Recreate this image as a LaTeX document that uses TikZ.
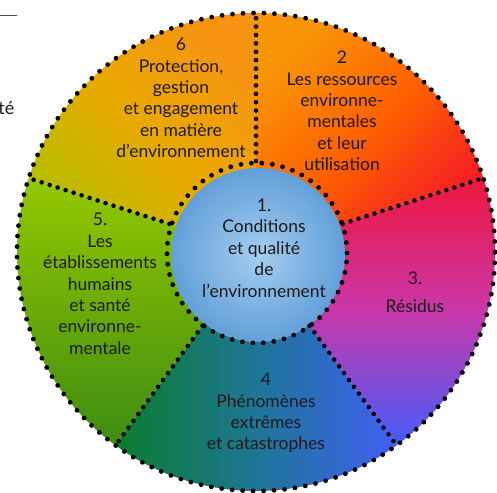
\documentclass[tikz,border=0pt]{standalone}
\usepackage{fontspec}
\setmainfont{Lato}
\definecolor{c6a}{RGB}{246,148,18}
\definecolor{c6m}{RGB}{232,170,0}
\definecolor{c6b}{RGB}{180,190,0}
\definecolor{c2a}{RGB}{248,150,8}
\definecolor{c2m}{RGB}{255,96,0}
\definecolor{c2b}{RGB}{245,22,40}
\definecolor{c3a}{RGB}{240,22,62}
\definecolor{c3m}{RGB}{200,55,170}
\definecolor{c3b}{RGB}{68,92,250}
\definecolor{c4a}{RGB}{10,125,45}
\definecolor{c4m}{RGB}{30,118,150}
\definecolor{c4b}{RGB}{65,95,245}
\definecolor{c5a}{RGB}{148,200,0}
\definecolor{c5b}{RGB}{62,140,18}
\definecolor{bIn}{RGB}{165,205,240}
\definecolor{bOut}{RGB}{98,160,216}
\definecolor{txt}{RGB}{30,25,25}
\begin{document}
\begin{tikzpicture}[x=1pt,y=1pt,
  dots/.style={line width=4.8pt, line cap=round, dash pattern=on 0pt off 10.5pt, black},
  rdots/.style={line width=4.6pt, line cap=round, dash pattern=on 0pt off 8.4pt, black},
  lbl/.style={align=center, font=\fontsize{17.5}{21.4}\selectfont, text=txt, inner sep=0pt}]
\useasboundingbox (0,0) rectangle (497,492);
% stray fragments at the left edge
\draw[line width=1pt, black!70] (0,476) -- (17,476);
\node[anchor=base east, font=\fontsize{18}{20}\selectfont, text=txt, inner sep=0pt] (frag) at (14.5,377) {té};
\begin{scope}[shift={(256,240)}]
  % sector 6
  \shade[top color=c6a, bottom color=c6b, middle color=c6m, shading angle=-45]
    (0,0) -- (90:239pt) arc[start angle=90, end angle=162, radius=239pt] -- cycle;
  % sector 2
  \shade[top color=c2a, bottom color=c2b, middle color=c2m, shading angle=45]
    (0,0) -- (18:239pt) arc[start angle=18, end angle=90, radius=239pt] -- cycle;
  % sector 3
  \shade[top color=c3a, bottom color=c3b, middle color=c3m]
    (0,0) -- (-54:239pt) arc[start angle=-54, end angle=18, radius=239pt] -- cycle;
  % sector 4
  \shade[left color=c4a, right color=c4b, middle color=c4m]
    (0,0) -- (-126:239pt) arc[start angle=-126, end angle=-54, radius=239pt] -- cycle;
  % sector 5
  \shade[top color=c5a, bottom color=c5b]
    (0,0) -- (162:239pt) arc[start angle=162, end angle=234, radius=239pt] -- cycle;
  % inner disc
  \shade[inner color=bIn, outer color=bOut] (2,-3) circle[radius=87pt];
  % dotted borders
  \foreach \a in {90,18,-54,-126,162} {
    \draw[rdots] (\a:91pt) -- (\a:239pt);
  }
  \draw[dots] (0,0) circle[radius=239pt];
  \draw[dots] (1,-1) circle[radius=90pt];
\end{scope}
% labels
\node[lbl] (n6) at (181,394) {6\\Protection,\\gestion\\et engagement\\en matière\\d’environnement};
\node[lbl] (n2) at (342,381) {2\\Les ressources\\environne-\\mentales\\et leur\\utilisation};
\node[lbl] (n3a) at (415,214) {3.};
\node[lbl] (n3b) at (415,186) {Résidus};
\node[lbl] (n4) at (266,79) {4\\Phénomènes\\extrêmes\\et catastrophes};
\node[lbl] (n5) at (100,208) {5.\\Les\\établissements\\humains\\et santé\\environne-\\mentale};
\node[lbl] (n1) at (264,244) {1.\\Conditions\\et qualité\\de\\l’environnement};
\end{tikzpicture}
\end{document}
